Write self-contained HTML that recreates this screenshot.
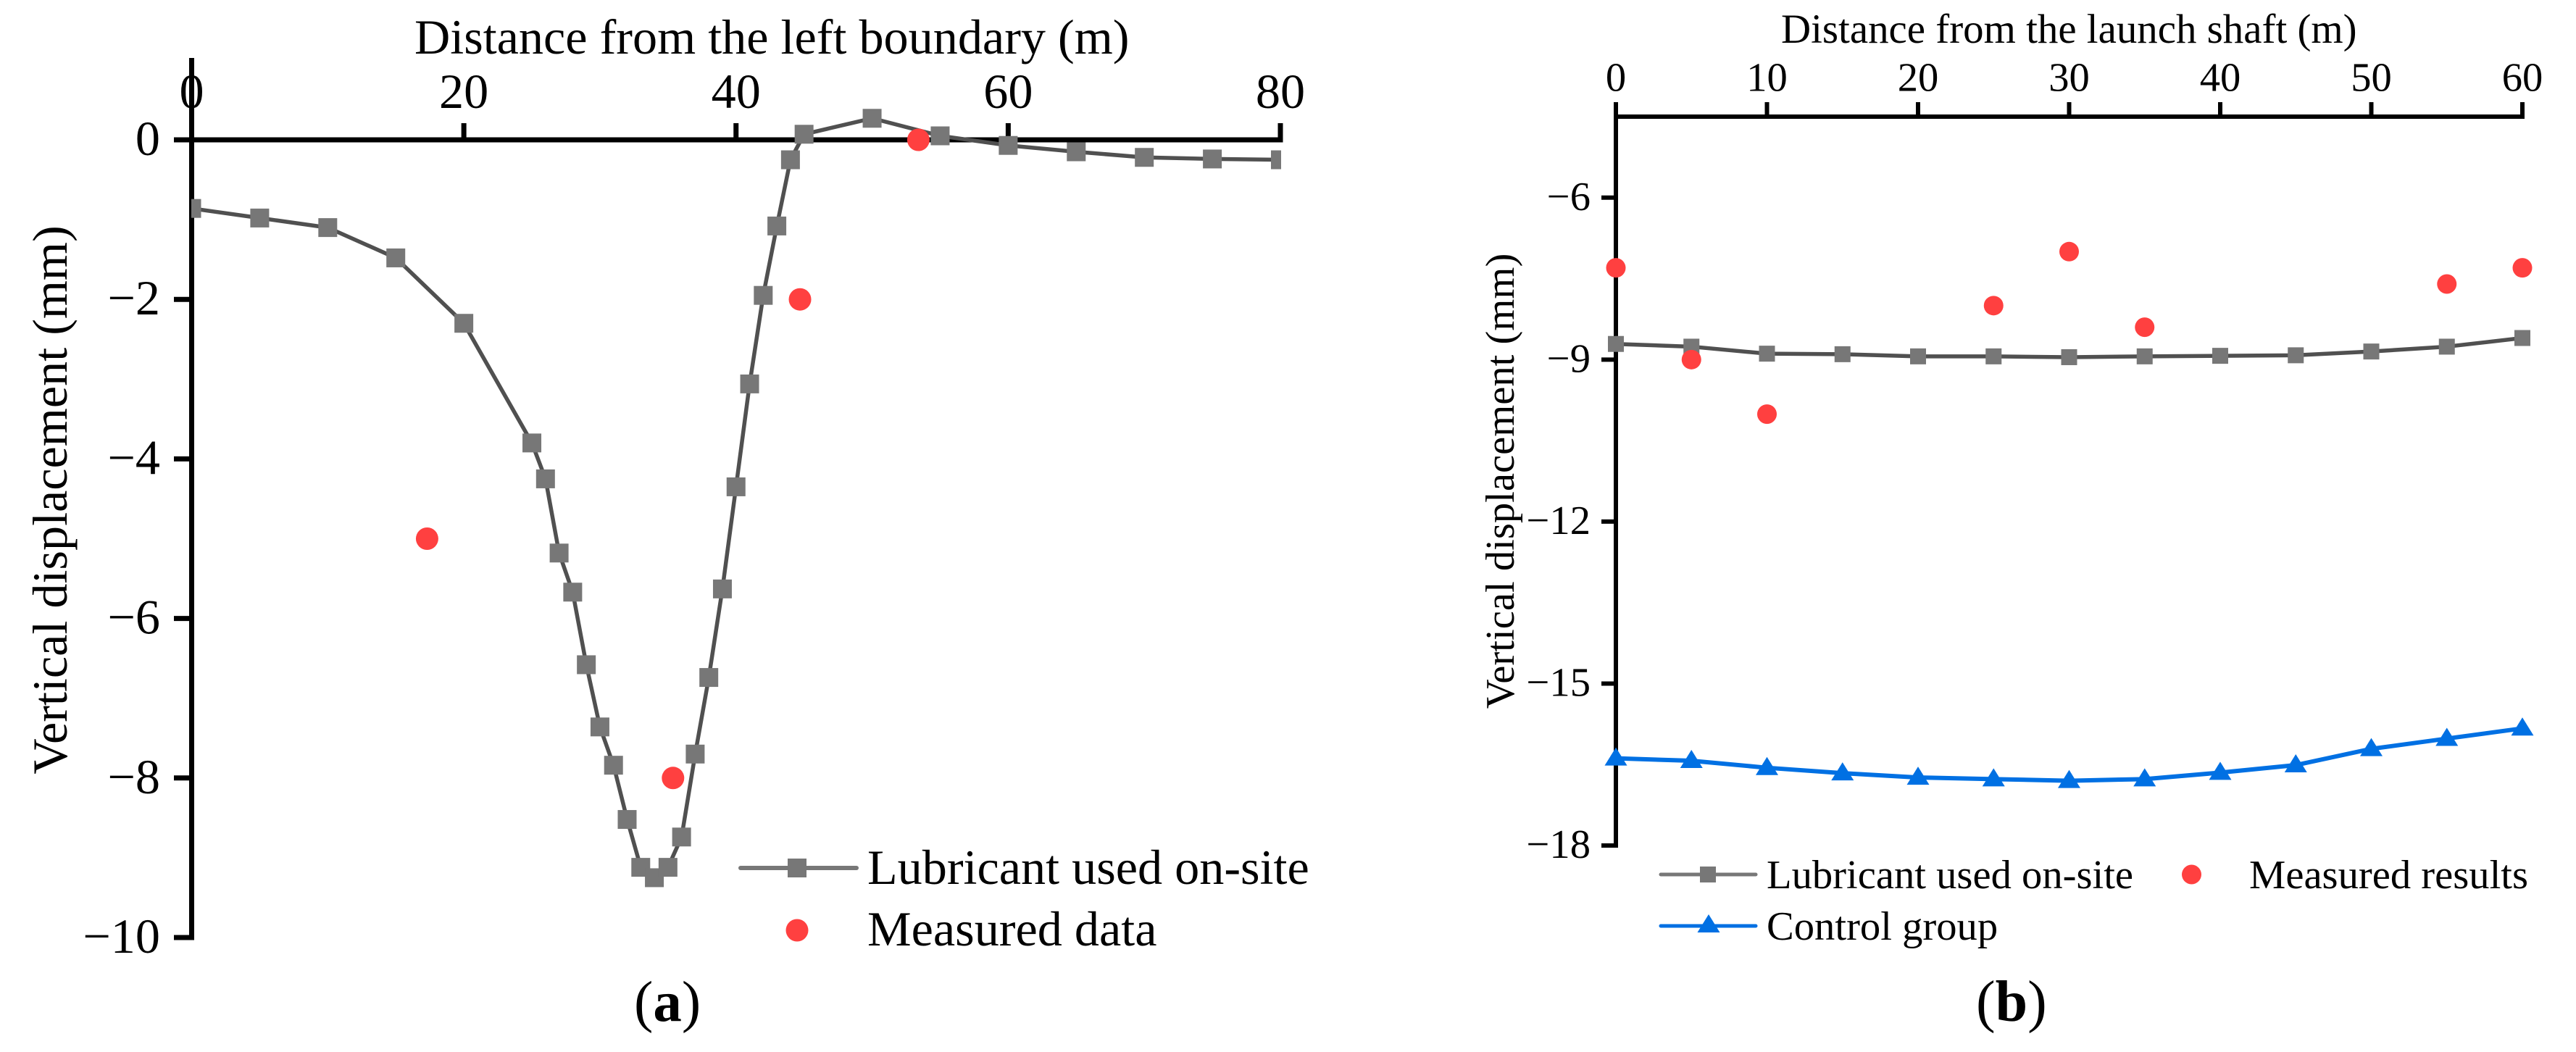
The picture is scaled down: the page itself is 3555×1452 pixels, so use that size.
<!DOCTYPE html>
<html lang="en">
<head>
<meta charset="utf-8">
<title>Vertical displacement charts</title>
<style>
html,body{margin:0;padding:0;background:#fff;}
svg{display:block;}
text{font-family:"Liberation Serif","Times New Roman",serif;fill:#000;}
</style>
</head>
<body>
<svg id="figure" xmlns="http://www.w3.org/2000/svg" width="3555" height="1452" viewBox="0 0 3555 1452">
  <rect x="0" y="0" width="3555" height="1452" fill="#ffffff"/>
  <defs>
    <clipPath id="clip-a"><rect x="264" y="60" width="1504" height="1260"/></clipPath>
  </defs>

  <g id="chart-a">
    <g id="a-axes"></g>
    <g id="a-series" clip-path="url(#clip-a)"></g>
    <g id="a-points"></g>
    <text x="572" y="74" font-size="68.2">Distance from the left boundary (m)</text>
    <text x="92" y="690" font-size="68.2" text-anchor="middle" transform="rotate(-90 92 690)">Vertical displacement (mm)</text>
    <g>
      <g>
        <line x1="1022" y1="1198" x2="1182" y2="1198" stroke="#777777" stroke-width="6" stroke-linecap="round"/>
        <rect x="1087" y="1185" width="26" height="26" fill="#777777"/>
        <text x="1197" y="1220" font-size="68.2">Lubricant used on-site</text>
      </g>
      <g>
        <circle cx="1100" cy="1284" r="15.5" fill="#ff4040"/>
        <text x="1197" y="1305" font-size="68.2">Measured data</text>
      </g>
    </g>
    <text x="875" y="1409" font-size="79">(<tspan font-weight="bold">a</tspan>)</text>
  </g>

  <g id="chart-b">
    <g id="b-axes"></g>
    <g id="b-series"></g>
    <g id="b-points"></g>
    <text x="2458" y="59" font-size="56.9">Distance from the launch shaft (m)</text>
    <text x="2089" y="664" font-size="56.6" text-anchor="middle" transform="rotate(-90 2089 664)">Vertical displacement (mm)</text>
    <g>
      <g>
        <line x1="2292" y1="1207" x2="2423" y2="1207" stroke="#777777" stroke-width="5" stroke-linecap="round"/>
        <rect x="2346" y="1196" width="22" height="22" fill="#777777"/>
        <text x="2438" y="1226" font-size="56.6">Lubricant used on-site</text>
      </g>
      <g>
        <circle cx="3024.5" cy="1207" r="13.5" fill="#ff4040"/>
        <text x="3104" y="1226" font-size="56.6">Measured results</text>
      </g>
      <g>
        <line x1="2292" y1="1278" x2="2423" y2="1278" stroke="#0070e3" stroke-width="5" stroke-linecap="round"/>
        <polygon points="2358,1262 2373.5,1287 2342.5,1287" fill="#0070e3"/>
        <text x="2438" y="1297" font-size="56.6">Control group</text>
      </g>
    </g>
    <text x="2727" y="1409" font-size="80">(<tspan font-weight="bold">b</tspan>)</text>
  </g>
</svg>

<script>
// Chart (a) data
const aDistance = [0,5,10,15,20,25,26,27,28,29,30,31,32,33,34,35,36,37,38,39,40,41,42,43,44,45,50,55,60,65,70,75,80];
const aLubricant = [-0.86,-0.98,-1.10,-1.48,-2.30,-3.80,-4.25,-5.18,-5.67,-6.58,-7.36,-7.84,-8.52,-9.12,-9.25,-9.12,-8.74,-7.70,-6.74,-5.63,-4.35,-3.06,-1.95,-1.08,-0.25,0.07,0.27,0.05,-0.07,-0.15,-0.22,-0.24,-0.25];
const aMeasuredDistance = [17.3,35.37,44.7,53.4];
const aMeasuredValue = [-5,-8,-2,0];
const aXTicks = [0,20,40,60,80];
const aYTicks = [0,-2,-4,-6,-8,-10];

// Chart (b) data
const bDistance = [0,5,10,15,20,25,30,35,40,45,50,55,60];
const bLubricant = [-8.71,-8.76,-8.89,-8.90,-8.94,-8.94,-8.955,-8.94,-8.93,-8.92,-8.85,-8.76,-8.60];
const bControl = [-16.385,-16.43,-16.56,-16.66,-16.74,-16.77,-16.80,-16.77,-16.65,-16.51,-16.21,-16.02,-15.83];
const bMeasuredDistance = [0,5,10,25,30,35,55,60];
const bMeasuredValue = [-7.3,-9,-10.01,-8,-7,-8.4,-7.6,-7.3];
const bXTicks = [0,10,20,30,40,50,60];
const bYTicks = [-6,-9,-12,-15,-18];

const NS = 'http://www.w3.org/2000/svg';

function make(parent, tag, props) {
  const el = document.createElementNS(NS, tag);
  for (const key in props) el.setAttribute(key, props[key]);
  parent.appendChild(el);
  return el;
}
function scale(d0, d1, r0, r1) {
  return function (v) { return r0 + (v - d0) * (r1 - r0) / (d1 - d0); };
}
function label(v) {
  return v < 0 ? '\u2212' + Math.abs(v) : String(v);
}

const xA = scale(0, 80, 264.5, 1767);
const yA = scale(0, -10, 193, 1294);
const xB = scale(0, 60, 2230, 3481);
const yB = scale(-4.5, -18, 161, 1167);

// ---------- Chart (a) axes ----------
const aAxes = document.getElementById('a-axes');
const aYLine = make(aAxes, 'line', {x1: xA(0), y1: 80, x2: xA(0), y2: yA(-10) + 3.5, stroke: '#000', 'stroke-width': 7});


const aXLine = make(aAxes, 'line', {x1: 240, y1: yA(0), x2: xA(80) + 3.5, y2: yA(0), stroke: '#000', 'stroke-width': 7});


aXTicks.forEach(function (t) {
  if (t !== 0) {
    const tick = make(aAxes, 'line', {x1: xA(t), y1: 170, x2: xA(t), y2: yA(0), stroke: '#000', 'stroke-width': 7});
    
    
  }
  const text = make(aAxes, 'text', {x: xA(t), y: 149, 'font-size': 68.2, 'text-anchor': 'middle'});
  text.textContent = label(t);
  
  
});
aYTicks.forEach(function (t) {
  const tick = make(aAxes, 'line', {x1: 240, y1: yA(t), x2: xA(0), y2: yA(t), stroke: '#000', 'stroke-width': 7});
  
  
  const text = make(aAxes, 'text', {x: 221, y: yA(t) + 21, 'font-size': 68.2, 'text-anchor': 'end'});
  text.textContent = label(t);
  
  
});

// ---------- Chart (a) series ----------
const aSeries = document.getElementById('a-series');
const aPts = aDistance.map(function (d, i) { return xA(d) + ',' + yA(aLubricant[i]); }).join(' ');
const aLine = make(aSeries, 'polyline', {points: aPts, fill: 'none', stroke: '#505050', 'stroke-width': 5.5, 'stroke-linejoin': 'round'});


aDistance.forEach(function (d, i) {
  const m = make(aSeries, 'rect', {x: xA(d) - 13, y: yA(aLubricant[i]) - 13, width: 26, height: 26, fill: '#777777'});
  
  
});
const aPoints = document.getElementById('a-points');
aMeasuredDistance.forEach(function (d, i) {
  const c = make(aPoints, 'circle', {cx: xA(d), cy: yA(aMeasuredValue[i]), r: 15.5, fill: '#ff4040'});
  
  
});

// ---------- Chart (b) axes ----------
const bAxes = document.getElementById('b-axes');
const bYLine = make(bAxes, 'line', {x1: xB(0), y1: 141, x2: xB(0), y2: yB(-18) + 3, stroke: '#000', 'stroke-width': 6});


const bXLine = make(bAxes, 'line', {x1: xB(0), y1: yB(-4.5), x2: xB(60) + 3, y2: yB(-4.5), stroke: '#000', 'stroke-width': 6});


bXTicks.forEach(function (t) {
  const tick = make(bAxes, 'line', {x1: xB(t), y1: 141, x2: xB(t), y2: yB(-4.5), stroke: '#000', 'stroke-width': 6});
  
  
  const text = make(bAxes, 'text', {x: xB(t), y: 125.5, 'font-size': 56.6, 'text-anchor': 'middle'});
  text.textContent = label(t);
  
  
});
bYTicks.forEach(function (t) {
  const tick = make(bAxes, 'line', {x1: 2210, y1: yB(t), x2: xB(0), y2: yB(t), stroke: '#000', 'stroke-width': 6});
  
  
  const text = make(bAxes, 'text', {x: 2195, y: yB(t) + 17, 'font-size': 56.6, 'text-anchor': 'end'});
  text.textContent = label(t);
  
  
});

// ---------- Chart (b) series ----------
const bSeries = document.getElementById('b-series');
const bLubPts = bDistance.map(function (d, i) { return xB(d) + ',' + yB(bLubricant[i]); }).join(' ');
const bLubLine = make(bSeries, 'polyline', {points: bLubPts, fill: 'none', stroke: '#505050', 'stroke-width': 5.5, 'stroke-linejoin': 'round'});


bDistance.forEach(function (d, i) {
  const m = make(bSeries, 'rect', {x: xB(d) - 11, y: yB(bLubricant[i]) - 11, width: 22, height: 22, fill: '#777777'});
  
  
});
const bCtlPts = bDistance.map(function (d, i) { return xB(d) + ',' + yB(bControl[i]); }).join(' ');
const bCtlLine = make(bSeries, 'polyline', {points: bCtlPts, fill: 'none', stroke: '#0070e3', 'stroke-width': 6, 'stroke-linejoin': 'round'});


bDistance.forEach(function (d, i) {
  const cx = xB(d);
  const cy = yB(bControl[i]);
  const tri = make(bSeries, 'polygon', {points: cx + ',' + (cy - 15) + ' ' + (cx + 15.5) + ',' + (cy + 10) + ' ' + (cx - 15.5) + ',' + (cy + 10), fill: '#0070e3'});
  
  
});
const bPoints = document.getElementById('b-points');
bMeasuredDistance.forEach(function (d, i) {
  const c = make(bPoints, 'circle', {cx: xB(d), cy: yB(bMeasuredValue[i]), r: 13.5, fill: '#ff4040'});
  
  
});
</script>
</body>
</html>
